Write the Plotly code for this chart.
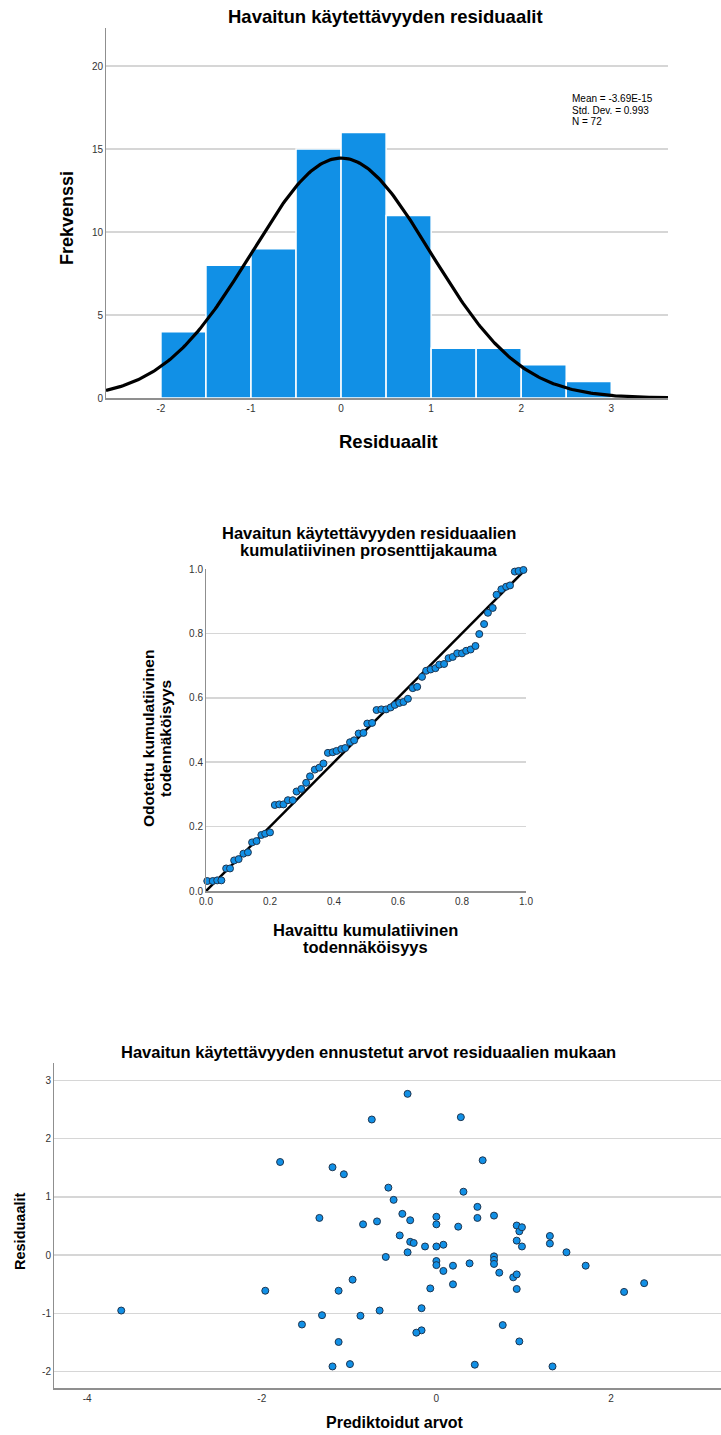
import numpy as np
import plotly.graph_objects as go

W, H = 721, 1435

# ---------------- Data ----------------
# Histogram of standardized residuals
bin_left = [-2.0, -1.5, -1.0, -0.5, 0.0, 0.5, 1.0, 1.5, 2.0, 2.5]
bin_counts = [4, 8, 9, 15, 16, 11, 3, 3, 2, 1]
bin_width = 0.5
res_mean = -3.69e-15
res_sd = 0.993
res_n = 72
hist_xticks = [-2, -1, 0, 1, 2, 3]
hist_yticks = [0, 5, 10, 15, 20]
stats_lines = ["Mean = -3.69E-15", "Std. Dev. = 0.993", "N = 72"]

# P-P plot (observed vs expected cumulative probability)
pp_observed = [0.004, 0.021, 0.035, 0.048, 0.063, 0.075, 0.088, 0.102, 0.117, 0.131,
               0.144, 0.158, 0.173, 0.185, 0.200, 0.215, 0.229, 0.242, 0.256, 0.271,
               0.283, 0.298, 0.313, 0.325, 0.340, 0.354, 0.367, 0.381, 0.396, 0.408,
               0.423, 0.435, 0.450, 0.463, 0.477, 0.492, 0.504, 0.519, 0.533, 0.548,
               0.563, 0.577, 0.590, 0.604, 0.617, 0.631, 0.646, 0.660, 0.675, 0.688,
               0.702, 0.717, 0.729, 0.744, 0.758, 0.771, 0.785, 0.800, 0.813, 0.827,
               0.842, 0.854, 0.869, 0.881, 0.896, 0.908, 0.923, 0.938, 0.950, 0.965,
               0.977, 0.992]
pp_expected = [0.031, 0.031, 0.033, 0.033, 0.070, 0.070, 0.095, 0.099, 0.116, 0.120,
               0.151, 0.155, 0.174, 0.178, 0.182, 0.267, 0.269, 0.269, 0.282, 0.282,
               0.309, 0.317, 0.336, 0.356, 0.377, 0.383, 0.396, 0.429, 0.431, 0.435,
               0.441, 0.444, 0.462, 0.468, 0.489, 0.491, 0.520, 0.522, 0.562, 0.564,
               0.564, 0.570, 0.578, 0.584, 0.587, 0.597, 0.630, 0.634, 0.665, 0.684,
               0.688, 0.692, 0.703, 0.705, 0.723, 0.727, 0.738, 0.738, 0.746, 0.750,
               0.761, 0.798, 0.829, 0.864, 0.879, 0.920, 0.937, 0.945, 0.949, 0.992,
               0.994, 0.997]
pp_ticks = [0.0, 0.2, 0.4, 0.6, 0.8, 1.0]

# Scatter: predicted values vs residuals
predicted = [-3.61, -1.96, -1.79, -1.54, -1.34, -1.31, -1.19, -1.19, -1.12, -1.12,
             -1.06, -0.99, -0.96, -0.87, -0.84, -0.74, -0.68, -0.65, -0.58, -0.55,
             -0.49, -0.42, -0.39, -0.33, -0.33, -0.30, -0.30, -0.26, -0.17, -0.17,
             -0.23, -0.13, -0.07, 0.00, 0.00, 0.00, 0.00, 0.00, 0.08, 0.08,
             0.19, 0.19, 0.25, 0.28, 0.31, 0.38, 0.44, 0.47, 0.47, 0.53,
             0.66, 0.66, 0.66, 0.66, 0.72, 0.76, 0.88, 0.92, 0.92, 0.92,
             0.92, 0.95, 0.95, 0.98, 0.98, 1.30, 1.30, 1.33, 1.49, 1.71,
             2.15, 2.38]
residuals = [-0.95, -0.61, 1.60, -1.19, 0.64, -1.03, 1.51, -1.91, -0.61, -1.49,
             1.39, -1.87, -0.42, -1.04, 0.53, 2.33, 0.58, -0.95, -0.03, 1.16,
             0.95, 0.34, 0.71, 2.77, 0.05, 0.60, 0.23, 0.21, -0.91, -1.29,
             -1.33, 0.15, -0.57, 0.66, 0.53, 0.15, -0.10, -0.17, 0.18, -0.27,
             -0.18, -0.50, 0.49, 2.37, 1.09, -0.14, -1.88, 0.83, 0.64, 1.63,
             0.68, -0.02, -0.08, -0.15, -0.30, -1.20, -0.38, 0.51, 0.25, -0.33,
             -0.58, 0.41, -1.48, 0.48, 0.15, 0.33, 0.20, -1.91, 0.05, -0.18,
             -0.63, -0.48]
sc_xticks = [-4, -2, 0, 2]
sc_yticks = [-2, -1, 0, 1, 2, 3]

# ---------------- Styles ----------------
BLUE = "#1190e6"
EDGE = "#1d3550"
GRID = "#d6d6d6"
AXIS = "#8f8f8f"
FONT = "Liberation Sans, Arial, sans-serif"
TICKFONT = dict(family=FONT, size=10, color="#333333")


def fx(px):
    return px / W


def fy(py):
    return 1 - py / H


def labels(vals, fmt="{:g}"):
    return [fmt.format(v) for v in vals]


fig = go.Figure()

# Histogram bars
bar_centers = [b + bin_width / 2 for b in bin_left]
fig.add_trace(go.Bar(
    x=bar_centers, y=bin_counts, width=bin_width,
    marker=dict(color=BLUE, line=dict(color="white", width=1.5)),
    xaxis="x", yaxis="y", showlegend=False, hoverinfo="skip"))

# Normal curve from the reported mean / SD / N
xs = np.linspace(-2.61, 3.63, 300)
ys = res_n * bin_width * np.exp(-0.5 * ((xs - res_mean) / res_sd) ** 2) / (res_sd * np.sqrt(2 * np.pi))
fig.add_trace(go.Scatter(x=xs, y=ys, mode="lines", line=dict(color="black", width=3.2),
                         xaxis="x", yaxis="y", showlegend=False, hoverinfo="skip"))

# P-P plot
fig.add_trace(go.Scatter(x=[0, 1], y=[0, 1], mode="lines", line=dict(color="black", width=2.5),
                         xaxis="x2", yaxis="y2", showlegend=False, hoverinfo="skip"))
fig.add_trace(go.Scatter(x=pp_observed, y=pp_expected, mode="markers",
                         marker=dict(color=BLUE, size=7, line=dict(color=EDGE, width=1)),
                         xaxis="x2", yaxis="y2", showlegend=False, cliponaxis=False))

# Scatter
fig.add_trace(go.Scatter(x=predicted, y=residuals, mode="markers",
                         marker=dict(color=BLUE, size=7, line=dict(color=EDGE, width=1)),
                         xaxis="x3", yaxis="y3", showlegend=False))

common_x = dict(showgrid=False, zeroline=False, showline=True, linecolor=AXIS, linewidth=1.5,
                ticks="", tickfont=TICKFONT, fixedrange=True, automargin=False)
common_y = dict(showgrid=True, gridcolor=GRID, gridwidth=1.5, zeroline=False, showline=True,
                linecolor=AXIS, linewidth=1, ticks="", tickfont=TICKFONT, fixedrange=True,
                automargin=False)

fig.update_layout(
    width=W, height=H, margin=dict(l=0, r=0, t=0, b=0, pad=0, autoexpand=False),
    paper_bgcolor="white", plot_bgcolor="white", bargap=0,
    xaxis=dict(common_x, domain=[fx(106), fx(668)], range=[-2.61, 3.63],
               tickvals=hist_xticks, ticktext=labels(hist_xticks), anchor="y", linewidth=2),
    yaxis=dict(common_y, domain=[fy(398), fy(28)], range=[0, 22.3],
               tickvals=hist_yticks, ticktext=labels(hist_yticks), anchor="x"),
    xaxis2=dict(common_x, domain=[fx(206), fx(526)], range=[0, 1],
                tickvals=pp_ticks, ticktext=labels(pp_ticks, "{:.1f}"), anchor="y2"),
    yaxis2=dict(common_y, domain=[fy(891), fy(569)], range=[0, 1],
                tickvals=pp_ticks, ticktext=labels(pp_ticks, "{:.1f}"), anchor="x2"),
    xaxis3=dict(common_x, domain=[fx(54), 1.0], range=[-4.38, 3.26],
                tickvals=sc_xticks, ticktext=labels(sc_xticks), anchor="y3"),
    yaxis3=dict(common_y, domain=[fy(1388), fy(1063)], range=[-2.28, 3.30],
                tickvals=sc_yticks, ticktext=labels(sc_yticks), anchor="x3"),
)


def ann(text, px, py, size, bold=True, angle=0, xanchor="center", yanchor="middle", align="center"):
    fig.add_annotation(
        text=f"<b>{text}</b>" if bold else text,
        x=fx(px), y=fy(py), xref="paper", yref="paper", showarrow=False,
        xanchor=xanchor, yanchor=yanchor, textangle=angle, align=align,
        font=dict(family=FONT, size=size, color="black"))


# Histogram texts
ann("Havaitun käytettävyyden residuaalit", 385, 17, 18.5)
ann("Frekvenssi", 67, 218, 18, angle=-90)
ann("Residuaalit", 388, 441, 18.5)
for i, line in enumerate(stats_lines):
    ann(line, 570, 99 + 11 * i, 10, bold=False, xanchor="left")

# P-P texts
ann("Havaitun käytettävyyden residuaalien", 369, 533, 16.5)
ann("kumulatiivinen prosenttijakauma", 369, 550, 16.5)
ann("Havaittu kumulatiivinen", 365, 930, 16.5)
ann("todennäköisyys", 365, 947, 16.5)
ann("Odotettu kumulatiivinen", 148, 739, 15.5, angle=-90)
ann("todennäköisyys", 165, 739, 15.5, angle=-90)

# Scatter texts
ann("Havaitun käytettävyyden ennustetut arvot residuaalien mukaan", 368, 1052, 16.5)
ann("Residuaalit", 20, 1231, 14.5, angle=-90)
ann("Prediktoidut arvot", 395, 1433, 16, yanchor="bottom")

fig.write_html("out.html",
               config={"displayModeBar": False, "staticPlot": True},
               post_script="document.body.style.margin='0';document.body.style.overflow='hidden';")
